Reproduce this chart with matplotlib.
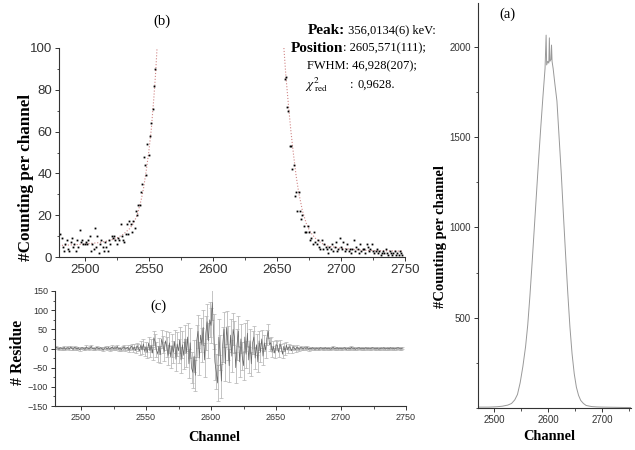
import matplotlib
matplotlib.use('Agg')
import matplotlib.pyplot as plt
import numpy as np
from matplotlib.ticker import MultipleLocator

plt.rcParams['mathtext.fontset'] = 'stix'

# ---- (b) zoom on the peak flanks: measured counts + fit ----
left_ch = list(range(2481, 2556))
left_cnt = [11, 9, 5, 3, 6, 8, 4, 3, 7, 9,
            5, 6, 3, 8, 5, 13, 7, 8, 6, 6,
            7, 6, 8, 10, 3, 6, 4, 14, 5, 10,
            2, 6, 8, 5, 3, 7, 5, 3, 8, 6,
            10, 9, 10, 8, 6, 9, 8, 16, 10, 8,
            7, 11, 16, 11, 17, 16, 12, 17, 14, 22,
            20, 25, 25, 31, 35, 48, 44, 39, 54, 49,
            58, 64, 71, 82, 90]
right_ch = list(range(2656, 2749))
right_cnt = [85, 86, 72, 70, 53, 53, 42, 44, 29, 31,
             22, 31, 22, 18, 20, 15, 12, 12, 15, 12,
             8, 9, 6, 12, 7, 6, 8, 5, 4, 8,
             4, 6, 5, 4, 2, 5, 4, 6, 3, 5,
             7, 3, 4, 9, 5, 4, 7, 3, 4, 6,
             3, 4, 2, 4, 8, 3, 5, 4, 2, 6,
             3, 4, 4, 2, 6, 5, 3, 4, 6, 3,
             2, 3, 4, 2, 3, 1, 2, 3, 2, 4,
             2, 1, 3, 2, 1, 2, 3, 1, 2, 1,
             3, 2, 1]
fit_left_ch = [2480, 2490, 2500, 2510, 2515, 2520, 2525, 2530, 2535, 2538,
               2541, 2544, 2546, 2548, 2550, 2552, 2554, 2555.5, 2556.5]
fit_left = [5.5, 5.8, 6.2, 6.8, 7.3, 8, 9, 10.8, 13.5, 16,
            20, 27, 33, 41, 50, 61, 76, 89, 100]
fit_right_ch = [2655.5, 2657, 2659, 2661, 2663, 2665, 2667, 2670, 2673, 2676,
                2680, 2685, 2690, 2700, 2710, 2720, 2730, 2748]
fit_right = [100, 87, 73, 60, 49, 39, 31, 22, 16, 12,
             9, 6.5, 5.2, 4.2, 3.6, 3.2, 3.0, 2.8]

# ---- (a) full peak ----
spec_ch = [2472, 2490, 2505, 2515, 2525, 2532, 2538, 2543, 2548, 2553,
           2558, 2562, 2566, 2570, 2574, 2578, 2582, 2586, 2590, 2594,
           2596, 2597, 2599, 2601, 2602, 2603, 2605, 2606, 2607, 2609,
           2612, 2616, 2620, 2624, 2628, 2632, 2636, 2640, 2644, 2648,
           2652, 2656, 2660, 2665, 2670, 2680, 2690, 2700, 2720, 2740, 2752]
spec_cnt = [5, 5, 7, 10, 16, 25, 45, 75, 140, 230,
            340, 460, 620, 800, 990, 1180, 1370, 1550, 1720, 1880,
            2065, 1900, 1920, 1910, 2050, 1920, 1930, 2010, 1920, 1880,
            1800, 1700, 1500, 1300, 1070, 850, 640, 450, 300, 190,
            115, 70, 42, 25, 14, 8, 6, 5, 4, 3, 3]

# ---- (c) residues ----
res_ch = list(range(2481, 2748))
res_val = [3, 1, -2, 2, 0, -1, 3, -2, 1, 2,
           -1, 4, 0, -2, 3, 1, -1, 2, -3, 1,
           2, 0, -2, 4, 1, -1, 2, 5, -1, 0,
           -2, 3, 1, -1, 2, 0, -3, 1, 2, -1,
           3, -2, 1, 4, -1, 2, 0, 5, -2, 1,
           -3, 2, 4, -1, 0, 3, -4, 2, 6, -3,
           4, -5, 7, 2, -6, 9, -4, 12, -8, 5,
           -10, 14, -6, 8, -12, 28, 18, -3, -14, 6,
           -16, 24, 10, -8, 20, 5, -18, 15, -22, 8,
           -10, 18, -28, 12, -6, 22, -30, 10, -18, 25,
           -12, 30, -40, 15, -50, -62, -20, -70, 20, 45,
           -25, 35, 10, 55, -30, 40, 70, 20, 75, 60,
           120, 45, -35, -60, -90, 30, -10, -85, 10, 50,
           -40, 55, 15, -45, 35, -20, 50, 30, -50, 10,
           45, -35, 25, -20, -45, 30, -15, 40, -30, 20,
           -40, 15, 30, -25, 10, -35, 20, -10, 25, -20,
           15, -5, 28, 45, 10, 15, -8, 5, -12, 10,
           8, -10, 12, 3, -15, 6, -8, 9, -4, 5,
           2, -6, 5, 1, -3, 4, 0, -2, 3, 1,
           -1, 2, 0, 3, -2, 1, -1, 2, 0, -2,
           1, 0, -2, 2, 1, -1, 0, 2, -1, 1,
           0, -2, 1, 3, -1, 0, 2, -1, 1, 0,
           -1, 1, 2, -2, 0, 1, -1, 3, 0, 1,
           -2, 0, 1, 2, -1, 1, 0, -1, 2, 0,
           1, -1, 0, 2, 1, -1, 0, 1, -2, 0,
           1, 0, 2, -1, 0, 1, -1, 2, 0, 1,
           -1, 0, 1, 2, 0, -1, 1]
res_err = [4, 3, 3, 3, 4, 3, 3, 3, 3, 4,
           3, 3, 4, 3, 3, 4, 3, 3, 3, 3,
           3, 3, 3, 4, 3, 3, 4, 4, 3, 3,
           3, 3, 3, 3, 3, 4, 3, 3, 4, 3,
           4, 4, 4, 4, 4, 4, 4, 5, 4, 4,
           4, 5, 5, 5, 5, 6, 5, 6, 6, 7,
           7, 8, 8, 9, 10, 10, 11, 12, 12, 13,
           14, 15, 16, 16, 17, 18, 19, 20, 20, 21,
           22, 23, 23, 24, 25, 26, 26, 27, 28, 29,
           29, 30, 31, 32, 32, 33, 34, 35, 35, 36,
           37, 37, 38, 39, 40, 40, 41, 41, 42, 43,
           43, 44, 44, 45, 45, 45, 45, 46, 46, 46,
           46, 46, 46, 46, 46, 46, 45, 45, 45, 45,
           44, 44, 44, 43, 43, 42, 42, 41, 41, 40,
           39, 39, 38, 37, 37, 36, 35, 34, 33, 32,
           31, 30, 29, 28, 27, 26, 25, 24, 23, 22,
           21, 20, 19, 18, 17, 16, 15, 14, 13, 12,
           11, 11, 10, 9, 9, 8, 8, 7, 7, 6,
           6, 6, 5, 5, 5, 5, 4, 4, 4, 4,
           4, 4, 4, 4, 4, 3, 3, 3, 3, 3,
           3, 3, 3, 3, 3, 3, 3, 3, 3, 3,
           3, 3, 3, 3, 3, 3, 3, 3, 3, 3,
           3, 3, 3, 3, 3, 3, 3, 3, 3, 3,
           3, 3, 3, 3, 3, 3, 3, 3, 3, 3,
           3, 3, 3, 3, 3, 3, 3, 3, 3, 3,
           3, 3, 3, 3, 3, 3, 3, 3, 3, 3,
           3, 3, 3, 3, 3, 3, 3]

SANS = 'Liberation Sans'
SERIF = 'Liberation Serif'
W, H = 635, 450


def px(x, y):
    """pixel (from top-left) -> figure fraction"""
    return x / W, 1 - y / H


def style_axes(ax, tick_size):
    for s in ('top', 'right'):
        ax.spines[s].set_visible(False)
    for s in ('left', 'bottom'):
        ax.spines[s].set_color('#333333')
        ax.spines[s].set_linewidth(0.8)
    ax.tick_params(which='major', direction='out', length=3, width=0.7,
                   labelsize=tick_size, colors='#333333', pad=2)
    ax.tick_params(which='minor', direction='out', length=1.8, width=0.6,
                   colors='#333333')
    for lab in ax.get_xticklabels() + ax.get_yticklabels():
        lab.set_fontfamily(SANS)


fig = plt.figure(figsize=(6.35, 4.5), dpi=100)

# (b)
axb = fig.add_axes([59 / W, 1 - 257 / H, 346 / W, 209 / H])
axb.plot(fit_left_ch, fit_left, ls=':', color='#d08585', lw=0.8)
axb.plot(fit_right_ch, fit_right, ls=':', color='#d08585', lw=0.8)
axb.plot(left_ch, left_cnt, 's', color='black', ms=1.3, mew=0)
axb.plot(right_ch, right_cnt, 's', color='black', ms=1.3, mew=0)
axb.set_xlim(2480, 2750)
axb.set_ylim(0, 100)
axb.xaxis.set_major_locator(MultipleLocator(50))
axb.xaxis.set_minor_locator(MultipleLocator(25))
axb.yaxis.set_major_locator(MultipleLocator(20))
axb.yaxis.set_minor_locator(MultipleLocator(10))
style_axes(axb, 9.5)
axb.set_ylabel('#Counting per channel', fontfamily=SERIF, fontweight='bold',
               fontsize=12.3)
axb.yaxis.set_label_coords(-0.072, 0.38)

# (c)
axc = fig.add_axes([55 / W, 1 - 406 / H, 351 / W, 115 / H])
axc.errorbar(res_ch, res_val, yerr=res_err, fmt='-', color='#666666', lw=0.5,
             ecolor='#b4b4b4', elinewidth=0.55, capsize=1.2, capthick=0.5)
axc.set_xlim(2480, 2750)
axc.set_ylim(-150, 150)
axc.xaxis.set_major_locator(MultipleLocator(50))
axc.xaxis.set_minor_locator(MultipleLocator(25))
axc.yaxis.set_major_locator(MultipleLocator(50))
axc.yaxis.set_minor_locator(MultipleLocator(25))
style_axes(axc, 6.5)
axc.set_ylabel('# Residue', fontfamily=SERIF, fontweight='bold', fontsize=11.3)
axc.yaxis.set_label_coords(-0.083, 0.465)
axc.set_xlabel('Channel', fontfamily=SERIF, fontweight='bold', fontsize=10.4)
axc.xaxis.set_label_coords(0.453, -0.22)

# (a)
axa = fig.add_axes([478 / W, 1 - 408 / H, 153 / W, 405 / H])
axa.plot(spec_ch, spec_cnt, color='#999999', lw=0.7)
axa.set_xlim(2470, 2753)
axa.set_ylim(0, 2243)
axa.xaxis.set_major_locator(MultipleLocator(100))
axa.xaxis.set_minor_locator(MultipleLocator(50))
axa.set_yticks([500, 1000, 1500, 2000])
axa.yaxis.set_minor_locator(MultipleLocator(250))
style_axes(axa, 7)
axa.set_ylabel('#Counting per channel', fontfamily=SERIF, fontweight='bold',
               fontsize=10.5)
axa.yaxis.set_label_coords(-0.203, 0.423)
axa.set_xlabel('Channel', fontfamily=SERIF, fontweight='bold', fontsize=10.4)
axa.xaxis.set_label_coords(0.464, -0.054)

# panel labels
for lbl, (x, y) in [('(b)', (162, 21)), ('(c)', (158, 306)), ('(a)', (507, 14))]:
    fig.text(*px(x, y), lbl, fontfamily=SERIF, fontsize=10.5,
             ha='center', va='center')

# fit results
fig.text(*px(345, 30), 'Peak:', fontfamily=SERIF, fontweight='bold',
         fontsize=11, ha='right', va='center')
fig.text(*px(345, 30), ' 356,0134(6) keV:', fontfamily=SERIF, fontsize=9,
         ha='left', va='center')
fig.text(*px(343, 48), 'Position', fontfamily=SERIF, fontweight='bold',
         fontsize=11, ha='right', va='center')
fig.text(*px(343, 48), ': 2605,571(111);', fontfamily=SERIF, fontsize=9,
         ha='left', va='center')
fig.text(*px(307, 66), 'FWHM: 46,928(207);', fontfamily=SERIF, fontsize=9,
         ha='left', va='center')
fig.text(*px(305, 85), r'$\chi^{2}_{\ \mathrm{red}}$', fontsize=9.5,
         ha='left', va='center')
fig.text(*px(350, 85), ':', fontfamily=SERIF, fontsize=9, ha='left',
         va='center')
fig.text(*px(358, 85), '0,9628.', fontfamily=SERIF, fontsize=9, ha='left',
         va='center')

fig.savefig('out.png', dpi=100)
